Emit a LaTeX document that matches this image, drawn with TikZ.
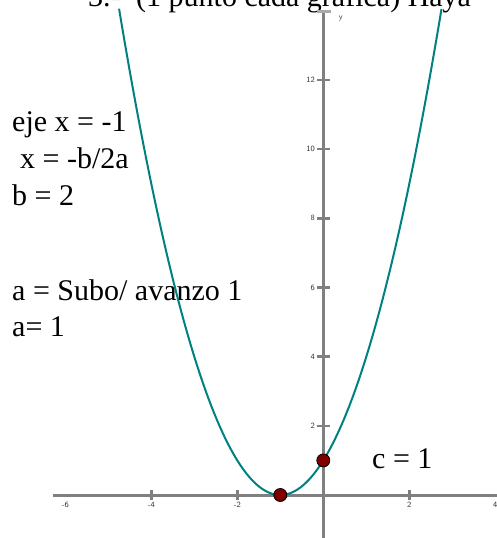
\documentclass[tikz,border=0pt]{standalone}
\usepackage{fontspec}
\setmainfont{Liberation Serif}
\definecolor{curveteal}{RGB}{0,128,128}
\definecolor{axisgray}{RGB}{128,128,128}
\definecolor{capgray}{RGB}{170,170,170}
\definecolor{dotred}{RGB}{128,0,0}
\begin{document}
\begin{tikzpicture}[x=1pt,y=-1pt,
  txt/.style={anchor=base west, inner sep=0pt, font=\fontsize{30}{36}\selectfont},
  ticklab/.style={inner sep=0pt, font=\sffamily\fontsize{8}{8}\selectfont, text=black!80},
  axisline/.style={draw=axisgray, line width=3pt},
  tickline/.style={draw=axisgray, line width=2.5pt},
  capline/.style={draw=capgray, line width=2.5pt},
  curveline/.style={draw=curveteal, line width=2pt},
  ptdot/.style={circle, fill=dotred, draw=black, line width=0.8pt, minimum size=13pt, inner sep=0pt}]
\useasboundingbox (0,0) rectangle (496,538);
% texts
\node[txt] (t0) at (88,6) {3.-};
\node[txt] (t0b) at (136,6) {(1 punto cada gráfica) Haya};
\node[txt] (t1) at (12,131.7) {eje x = -1};
\node[txt] (t2) at (20,168.3) {x = -b/2a};
\node[txt] (t3) at (12,205) {b = 2};
\node[txt] (t4) at (12,300) {a = Subo/ avanzo 1};
\node[txt] (t5) at (12,336.7) {a= 1};
\node[txt] (t6) at (372,468) {c = 1};
% graph
\begin{scope}[shift={(323.3,495)}, x=43pt, y=34.58pt]
  \coordinate (xl) at (-6.29,0);
  \coordinate (xr) at (4.05,0);
  \coordinate (yb) at (0,-1.3);
  \coordinate (yt) at (0,13.976);
  \coordinate (capl) at (-0.147,13.976);
  \coordinate (capr) at (0.179,13.976);
  \draw[axisline] (xl) -- (xr);
  \draw[axisline] (yb) -- (yt);
  \draw[capline] (capl) -- (capr);
  \foreach \t in {-4,-2,2}{
    \draw[tickline] (\t,-0.15) -- (\t,0.15);
  }
  \foreach \t in {2,4,...,12}{
    \draw[tickline] (-0.14,\t) -- (0.16,\t);
    \node[ticklab, anchor=east] (ly\t) at (-0.19,\t) {\t};
  }
  \foreach \t in {-6,-4,-2,2,4}{
    \node[ticklab, anchor=north] (lx\t) at (\t,-0.2) {\t};
  }
  \node[ticklab] (ylab) at (0.41,13.79) {y};
  \draw[curveline] plot[domain=-4.75:2.75, samples=120] (\x, {(\x+1)^2});
  \node[ptdot] (vtx) at (-1,0) {};
  \node[ptdot] (cpt) at (0,1) {};
\end{scope}
\end{tikzpicture}
\end{document}
